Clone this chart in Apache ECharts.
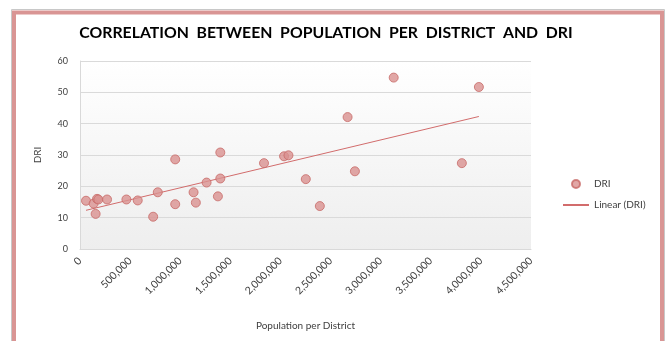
<!DOCTYPE html>
<html>
<head>
<meta charset="utf-8">
<script src="https://cdn.jsdelivr.net/npm/echarts@6/dist/echarts.min.js"></script>
<style>html,body{margin:0;padding:0;background:#fff;}#c{width:671px;height:341px;}</style>
</head>
<body>
<div id="c"></div>
<script>
const population = [60000,136000,156000,170000,183000,270000,463000,576000,730000,776000,950000,950000,1133000,1156000,1263000,1376000,1400000,1400000,1836000,2036000,2080000,2253000,2393000,2670000,2743000,3130000,3810000,3980000];
const dri = [15.4,14.5,11.2,16.0,15.8,15.8,15.8,15.5,10.3,18.1,28.6,14.3,18.1,14.8,21.2,16.8,30.8,22.5,27.4,29.6,29.9,22.3,13.7,42.1,24.8,54.7,27.4,51.7];
const xTicks = [0,500000,1000000,1500000,2000000,2500000,3000000,3500000,4000000,4500000];
const yTicks = [0,10,20,30,40,50,60];

const points = population.map((p,i)=>[p,dri[i]]);
// least-squares linear trendline (Excel "Linear (DRI)")
const n = points.length;
const mx = population.reduce((a,b)=>a+b,0)/n;
const my = dri.reduce((a,b)=>a+b,0)/n;
let sxy=0,sxx=0;
for(let i=0;i<n;i++){sxy+=(population[i]-mx)*(dri[i]-my);sxx+=(population[i]-mx)**2;}
const slope=sxy/sxx, icpt=my-slope*mx;
const xmin=Math.min(...population), xmax=Math.max(...population);
const trend=[[xmin,icpt+slope*xmin],[xmax,icpt+slope*xmax]];

const chart = echarts.init(document.getElementById('c'), null, {renderer:'canvas'});
const font = 'Lato, "Open Sans", sans-serif';
chart.setOption({
  animation:false,
  textStyle:{fontFamily:font},
  graphic:[
    {type:'rect',shape:{x:11.5,y:9.5,width:653,height:340},style:{fill:'none',stroke:'#c8c8c8',lineWidth:1},silent:true},
    {type:'rect',shape:{x:14,y:12.5,width:648,height:340},style:{fill:'none',stroke:'#d99594',lineWidth:4},silent:true}
  ],
  title:{text:'CORRELATION  BETWEEN  POPULATION  PER  DISTRICT  AND  DRI',left:321,textAlign:'center',top:20,
    textStyle:{fontFamily:font,fontSize:15.8,fontWeight:'bold',color:'#000'}},
  grid:{left:80,top:61,width:451,height:188,show:true,borderWidth:0,
    backgroundColor:{type:'linear',x:0,y:0,x2:0,y2:1,colorStops:[{offset:0,color:'#ffffff'},{offset:1,color:'#eeeeee'}]}},
  legend:{orient:'vertical',left:562,top:179,padding:0,itemWidth:26,itemHeight:8,itemGap:11,
    textStyle:{fontFamily:font,fontSize:10,color:'#404040'},
    data:[{name:'DRI',icon:'circle'},{name:'Linear (DRI)',itemStyle:{opacity:0}}]},
  xAxis:{type:'value',min:xTicks[0],max:xTicks[xTicks.length-1],interval:500000,
    name:'Population per District',nameLocation:'middle',nameGap:72,
    nameTextStyle:{fontFamily:font,fontSize:10,color:'#404040'},
    axisLine:{show:true,lineStyle:{color:'#d9d9d9'}},axisTick:{show:false},
    splitLine:{show:false},
    axisLabel:{rotate:45,margin:10,fontSize:10.5,color:'#404040',fontFamily:font,
      formatter:v=>v.toLocaleString('en-US')}},
  yAxis:{type:'value',min:yTicks[0],max:yTicks[yTicks.length-1],interval:10,
    name:'DRI',nameLocation:'middle',nameGap:37,nameRotate:90,
    nameTextStyle:{fontFamily:font,fontSize:10,color:'#404040'},
    axisLine:{show:true,lineStyle:{color:'#d9d9d9'}},axisTick:{show:false},
    splitLine:{show:true,lineStyle:{color:'#dadada'}},
    axisLabel:{margin:12,fontSize:9,color:'#404040',fontFamily:font}},
  series:[
    {name:'Linear (DRI)',type:'line',data:trend,symbol:'none',lineStyle:{color:'#d26c6c',width:1},itemStyle:{color:'#d26c6c'},z:2},
    {name:'DRI',type:'scatter',data:points,symbol:'circle',symbolSize:9,
      itemStyle:{color:'#da9190',borderColor:'#c86a68',borderWidth:1},z:3}
  ]
});
</script>
</body>
</html>
